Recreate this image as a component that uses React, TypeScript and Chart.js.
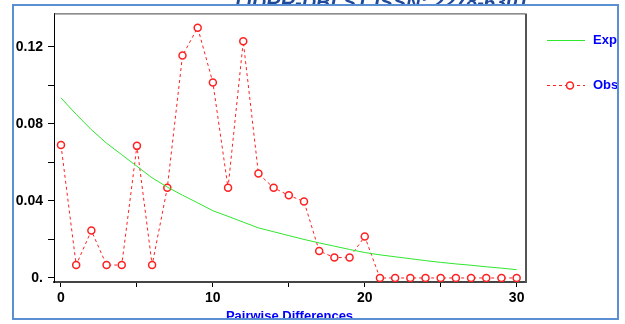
import React, { useEffect, useRef } from "react";
import { Chart, registerables } from "chart.js";

Chart.register(...registerables);

const diffs = [0,1,2,3,4,5,6,7,8,9,10,11,12,13,14,15,16,17,18,19,20,21,22,23,24,25,26,27,28,29,30];
const observed = [0.069,0.0067,0.0246,0.0067,0.0067,0.0686,0.0067,0.0468,0.1155,0.130,0.1015,0.0468,0.1229,0.0542,0.0468,0.0429,0.0397,0.0140,0.0106,0.0106,0.0215,0,0,0,0,0,0,0,0,0,0];
const expected = [0.0935,0.085,0.077,0.070,0.064,0.058,0.052,0.0472,0.043,0.039,0.0349,0.032,0.029,0.026,0.024,0.022,0.020,0.0182,0.0165,0.0148,0.0132,0.012,0.011,0.010,0.009,0.0081,0.0073,0.0066,0.0058,0.0051,0.0043];
const xTicks = [0,5,10,15,20,25,30];
const xTickLabels = ["0","","10","","20","","30"];
const yTicks = [0,0.02,0.04,0.06,0.08,0.10,0.12];
const yTickLabels = ["0.","","0.04","","0.08","","0.12"];
const seriesNames = ["Exp","Obs"];
const headerText = "IJDRR-DBLST ISSN: 2278-6301";
const xTitle = "Pairwise Differences";

const FONT = "'Liberation Sans', Arial, sans-serif";
const RED = "#ff2020";
const GREEN = "#2ee82e";
const BLUE = "#0000ff";

const decor = {
  id: "decor",
  beforeDraw(chart: any) {
    const ctx = chart.ctx;
    ctx.save();
    ctx.fillStyle = "#fff";
    ctx.fillRect(0, 0, chart.width, chart.height);
    ctx.fillStyle = "#1f4a9a";
    ctx.font = `italic bold 20px ${FONT}`;
    ctx.textBaseline = "alphabetic";
    ctx.textAlign = "left";
    ctx.fillText(headerText, 235, 9);
    ctx.fillStyle = "#fff";
    ctx.fillRect(14, 6, 603, 313);
    ctx.restore();
  },
  afterDraw(chart: any) {
    const ctx = chart.ctx;
    const a = chart.chartArea;
    ctx.save();
    ctx.strokeStyle = "#444";
    ctx.lineWidth = 1;
    ctx.beginPath();
    ctx.moveTo(a.left, a.top + 0.5);
    ctx.lineTo(a.right, a.top + 0.5);
    ctx.stroke();
    ctx.strokeStyle = "#555";
    ctx.lineWidth = 2;
    ctx.beginPath();
    ctx.moveTo(a.right + 1, a.top);
    ctx.lineTo(a.right + 1, a.bottom + 1);
    ctx.stroke();

    ctx.lineWidth = 1;
    ctx.strokeStyle = GREEN;
    ctx.beginPath();
    ctx.moveTo(547, 40.5);
    ctx.lineTo(585, 40.5);
    ctx.stroke();
    ctx.strokeStyle = RED;
    ctx.setLineDash([3, 3]);
    ctx.beginPath();
    ctx.moveTo(547, 85.5);
    ctx.lineTo(585, 85.5);
    ctx.stroke();
    ctx.setLineDash([]);
    ctx.fillStyle = "#fff";
    ctx.lineWidth = 1.5;
    ctx.beginPath();
    ctx.arc(570, 85.5, 3.5, 0, Math.PI * 2);
    ctx.fill();
    ctx.stroke();
    ctx.fillStyle = BLUE;
    ctx.font = `bold 13px ${FONT}`;
    ctx.textBaseline = "middle";
    ctx.textAlign = "left";
    ctx.fillText(seriesNames[0], 593, 40);
    ctx.fillText(seriesNames[1], 593, 85);

    ctx.fillStyle = "#fff";
    ctx.fillRect(0, 320, chart.width, chart.height - 320);
    ctx.fillRect(619, 0, chart.width - 619, chart.height);
    ctx.strokeStyle = "#5b8fd3";
    ctx.lineWidth = 2;
    ctx.strokeRect(13, 5, 605, 314);
    ctx.restore();
  },
};

export default function App() {
  const ref = useRef<HTMLCanvasElement | null>(null);
  useEffect(() => {
    if (!ref.current) return;
    const chart = new Chart(ref.current, {
      type: "line",
      data: {
        datasets: [
          {
            label: seriesNames[0],
            data: diffs.map((x, i) => ({ x, y: expected[i] })),
            borderColor: GREEN,
            borderWidth: 1,
            pointRadius: 0,
            tension: 0,
          },
          {
            label: seriesNames[1],
            data: diffs.map((x, i) => ({ x, y: observed[i] })),
            borderColor: RED,
            borderWidth: 1,
            borderDash: [3, 3],
            pointRadius: 3.5,
            pointBorderWidth: 1.5,
            pointBorderColor: RED,
            pointBackgroundColor: "#fff",
            tension: 0,
          },
        ],
      },
      options: {
        responsive: false,
        animation: false,
        devicePixelRatio: 1,
        layout: { padding: { left: 0, top: 10, right: 100, bottom: 0 } },
        plugins: { legend: { display: false }, tooltip: { enabled: false } },
        scales: {
          x: {
            type: "linear",
            min: -0.46,
            max: 30.55,
            afterBuildTicks: (s: any) => {
              s.ticks = xTicks.map((v) => ({ value: v }));
            },
            afterFit: (s: any) => {
              s.height = 42;
            },
            ticks: {
              autoSkip: false,
              maxRotation: 0,
              padding: 3,
              color: "#000",
              font: { family: FONT, weight: "bold", size: 14 },
              callback: (_v: any, i: number) => xTickLabels[i],
            },
            grid: { drawOnChartArea: false, drawTicks: true, tickLength: 5, color: "#000", lineWidth: 1 },
            border: { display: true, color: "#444", width: 2 },
            title: {
              display: true,
              text: xTitle,
              color: BLUE,
              font: { family: FONT, weight: "bold", size: 13 },
              padding: 0,
            },
          },
          y: {
            type: "linear",
            min: -0.0021,
            max: 0.1374,
            afterBuildTicks: (s: any) => {
              s.ticks = yTicks.map((v) => ({ value: v }));
            },
            afterFit: (s: any) => {
              s.width = 54;
            },
            ticks: {
              autoSkip: false,
              padding: 5,
              color: "#000",
              font: { family: FONT, weight: "bold", size: 14 },
              callback: (_v: any, i: number) => yTickLabels[i],
            },
            grid: { drawOnChartArea: false, drawTicks: true, tickLength: 6, color: "#000", lineWidth: 1 },
            border: { display: true, color: "#000", width: 1 },
          },
        },
      },
      plugins: [decor],
    } as any);
    return () => chart.destroy();
  }, []);
  return (
    <div style={{ position: "fixed", left: 0, top: 0, width: 625, height: 324, background: "#fff" }}>
      <canvas ref={ref} width={625} height={324} style={{ width: 625, height: 324, display: "block" }} />
    </div>
  );
}
